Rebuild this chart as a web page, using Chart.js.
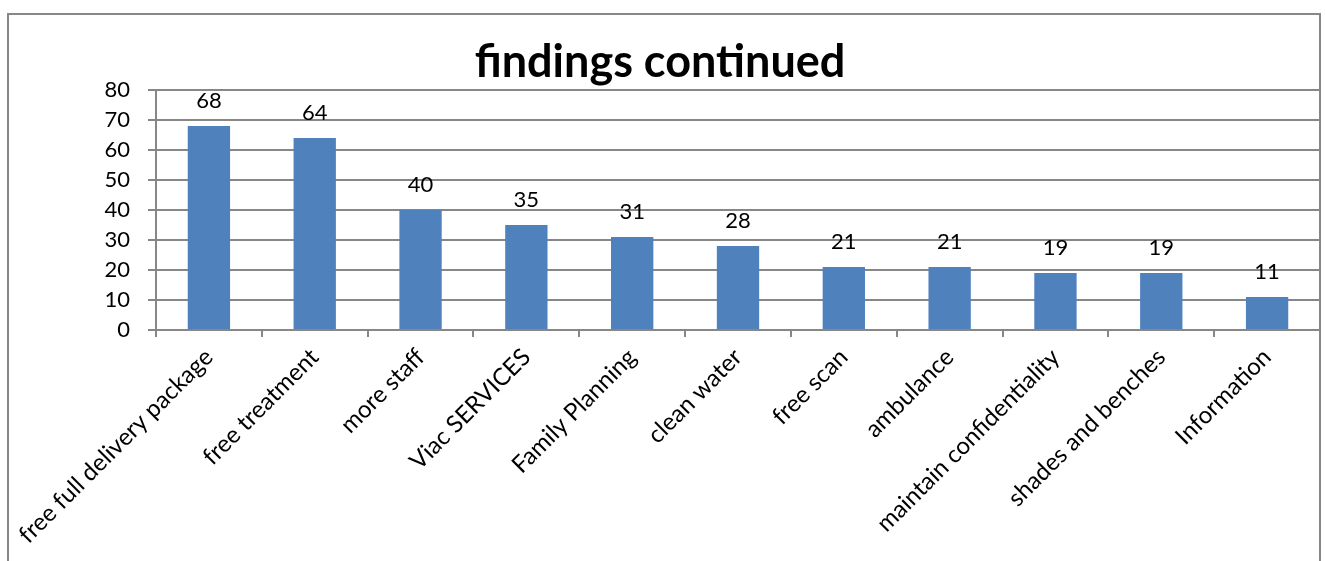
<!DOCTYPE html>
<html>
<head>
<meta charset="utf-8">
<script src="https://cdn.jsdelivr.net/npm/chart.js@4/dist/chart.umd.min.js"></script>
<style>
  html, body { margin: 0; padding: 0; background: #fff; overflow: hidden; }
  #wrap { position: relative; width: 1325px; height: 561px; }
</style>
</head>
<body>
<div id="wrap"><canvas id="findingsChart"></canvas></div>
<script>
// chart data
const categories = [
    'free full delivery package', 'free treatment', 'more staff', 'Viac SERVICES',
    'Family Planning', 'clean water', 'free scan', 'ambulance',
    'maintain confidentiality', 'shades and benches', 'Information'
];
const counts = [68, 64, 40, 35, 31, 28, 21, 21, 19, 19, 11];
const yTicks = [0, 10, 20, 30, 40, 50, 60, 70, 80];

const FONT = 'Lato, "Open Sans", sans-serif';
const GREY = '#878787';

// outer frame (bottom edge is cropped in the original)
const framePlugin = {
    id: 'frame',
    beforeDraw(chart) {
        const ctx = chart.ctx;
        ctx.save();
        ctx.fillStyle = '#ffffff';
        ctx.fillRect(0, 0, chart.width, chart.height);
        ctx.strokeStyle = GREY;
        ctx.lineWidth = 2;
        ctx.beginPath();
        ctx.moveTo(8, chart.height + 5);
        ctx.lineTo(8, 14);
        ctx.lineTo(1320, 14);
        ctx.lineTo(1320, chart.height + 5);
        ctx.stroke();
        ctx.restore();
    }
};

// value labels above the bars
const valueLabels = {
    id: 'valueLabels',
    afterDatasetsDraw(chart) {
        const ctx = chart.ctx;
        const meta = chart.getDatasetMeta(0);
        ctx.save();
        ctx.font = '22px ' + FONT;
        ctx.fillStyle = '#000';
        ctx.textAlign = 'center';
        ctx.textBaseline = 'alphabetic';
        meta.data.forEach((bar, i) => {
            ctx.fillText(String(counts[i]), bar.x, bar.y - 18);
        });
        ctx.restore();
    }
};

new Chart(document.getElementById('findingsChart'), {
    type: 'bar',
    data: {
        labels: categories,
        datasets: [{
            data: counts,
            backgroundColor: '#4f81bd',
            borderWidth: 0,
            categoryPercentage: 1,
            barPercentage: 0.4
        }]
    },
    options: {
        responsive: true,
        maintainAspectRatio: false,
        animation: false,
        layout: { padding: { top: 0, right: 5, bottom: 0, left: 0 } },
        plugins: {
            legend: { display: false },
            tooltip: { enabled: false },
            title: {
                display: true,
                text: 'findings continued',
                color: '#000',
                font: { family: FONT, size: 45, weight: 'bold' },
                padding: { top: 35, bottom: 1 }
            }
        },
        scales: {
            x: {
                grid: {
                    offset: true,
                    drawOnChartArea: false,
                    drawTicks: true,
                    tickLength: 7,
                    color: GREY,
                    lineWidth: 2
                },
                border: { display: true, color: GREY, width: 2 },
                ticks: {
                    autoSkip: false,
                    maxRotation: 45,
                    minRotation: 45,
                    padding: 6,
                    color: '#000',
                    font: { family: FONT, size: 24 }
                },
                afterFit: (scale) => { scale.height = 231; }
            },
            y: {
                min: 0,
                max: 80,
                afterBuildTicks: (scale) => { scale.ticks = yTicks.map(v => ({ value: v })); },
                grid: {
                    color: GREY,
                    lineWidth: 2,
                    tickLength: 8
                },
                border: { display: true, color: GREY, width: 2 },
                ticks: {
                    padding: 18,
                    color: '#000',
                    font: { family: FONT, size: 22 }
                },
                afterFit: (scale) => { scale.width = 156; }
            }
        }
    },
    plugins: [framePlugin, valueLabels]
});
</script>
</body>
</html>
